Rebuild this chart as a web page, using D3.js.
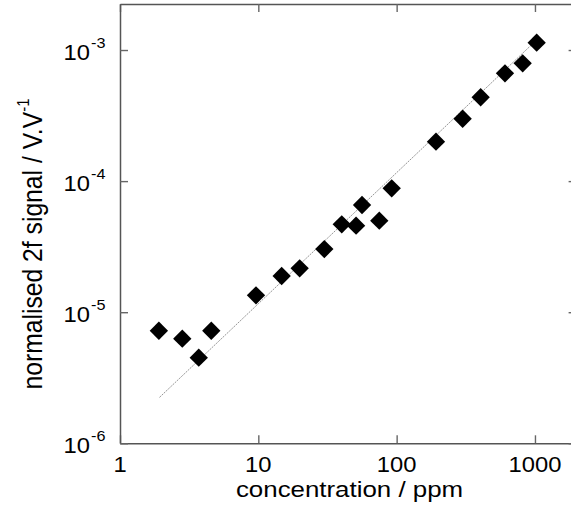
<!DOCTYPE html>
<html>
<head>
<meta charset="utf-8">
<script src="https://cdn.jsdelivr.net/npm/d3@7"></script>
<style>
  html, body { margin: 0; padding: 0; background: #fff; }
  svg { display: block; }
  text { font-family: "Liberation Sans", Arial, sans-serif; fill: #000; }
</style>
</head>
<body>
<svg id="chart" width="571" height="514"></svg>
<script>
// ---- data ----
const concentration = [1.91, 2.82, 3.71, 4.57, 9.62, 14.75, 19.9, 30.0, 40.1, 50.9, 56.2, 74.9, 92.1, 192.5, 300, 405, 607, 815, 1029];
const signal = [7.22e-6, 6.28e-6, 4.50e-6, 7.22e-6, 1.345e-5, 1.89e-5, 2.16e-5, 3.03e-5, 4.68e-5, 4.57e-5, 6.57e-5, 4.99e-5, 8.81e-5, 2.00e-4, 2.99e-4, 4.36e-4, 6.64e-4, 7.91e-4, 1.137e-3];
const fitX = [1.93, 1050];
const fitY = [2.24e-6, 1.218e-3];
const xTicks = [1, 10, 100, 1000];
const xTickLabels = ["1", "10", "100", "1000"];
const yTicks = [1e-6, 1e-5, 1e-4, 1e-3];
const yTickExponents = ["-6", "-5", "-4", "-3"];
const xTitle = "concentration / ppm";
const yTitleMain = "normalised 2f signal / V.V";
const yTitleSup = "-1";

const svg = d3.select("#chart");
const pL = 120, pR = 576.6, pT = 4, pB = 443.3;

const x = d3.scaleLog().domain([1, 2000]).range([pL, pR]);
const y = d3.scaleLog().domain([1e-6, 2.244e-3]).range([pB, pT]);

const frameColor = "#555";
const tickLen = 8;

// fit line
svg.append("path")
  .datum(fitX.map((d, i) => [d, fitY[i]]))
  .attr("fill", "none")
  .attr("stroke", "#8a8a8a")
  .attr("stroke-width", 0.9)
  .attr("stroke-dasharray", "2,1")
  .attr("d", d3.line().x(d => x(d[0])).y(d => y(d[1])));

// axes (ticks inward, all four sides)
const fmtNone = () => "";
svg.append("g").attr("transform", `translate(0,${pB})`)
  .call(d3.axisBottom(x).tickValues(xTicks).tickSizeInner(-tickLen).tickSizeOuter(0).tickFormat(fmtNone));
svg.append("g").attr("transform", `translate(0,${pT})`)
  .call(d3.axisTop(x).tickValues(xTicks).tickSizeInner(-tickLen).tickSizeOuter(0).tickFormat(fmtNone));
svg.append("g").attr("transform", `translate(${pL},0)`)
  .call(d3.axisLeft(y).tickValues(yTicks).tickSizeInner(-tickLen).tickSizeOuter(0).tickFormat(fmtNone));
svg.append("g").attr("transform", `translate(${pR},0)`)
  .call(d3.axisRight(y).tickValues(yTicks).tickSizeInner(-tickLen).tickSizeOuter(0).tickFormat(fmtNone));
svg.selectAll(".domain").attr("stroke", frameColor).attr("stroke-width", 1.5);
svg.selectAll(".tick line").attr("stroke", "#666").attr("stroke-width", 1.4);

// x tick labels
xTicks.forEach((t, i) => {
  svg.append("g")
    .attr("transform", `translate(${x(t)},472) scale(1.08,1)`)
    .append("text")
    .attr("text-anchor", "middle")
    .attr("font-size", 22)
    .text(xTickLabels[i]);
});

// y tick labels: 10^exp
yTicks.forEach((t, i) => {
  const g = svg.append("g")
    .attr("transform", `translate(90,${y(t) + 9.5}) scale(1.08,1)`);
  g.append("text").attr("text-anchor", "end").attr("font-size", 22).text("10");
  g.append("text").attr("x", 1).attr("y", -11.5).attr("font-size", 15).text(yTickExponents[i]);
});

// markers (diamonds)
svg.append("g").selectAll("path")
  .data(concentration.map((c, i) => [c, signal[i]]))
  .join("path")
  .attr("transform", d => `translate(${x(d[0])},${y(d[1])}) rotate(45)`)
  .attr("d", d3.symbol(d3.symbolSquare, 168)())
  .attr("fill", "#000");

// x axis title
svg.append("g")
  .attr("transform", "translate(349.5,497) scale(1.15,1)")
  .append("text")
  .attr("text-anchor", "middle")
  .attr("font-size", 22.5)
  .text(xTitle);

// y axis title
const yt = svg.append("g")
  .attr("transform", "translate(42,244) rotate(-90) scale(1,1.15)")
  .append("text")
  .attr("text-anchor", "middle")
  .attr("font-size", 24.7);
yt.append("tspan").text(yTitleMain);
yt.append("tspan").attr("font-size", 15).attr("dy", -11).text(yTitleSup);
</script>
</body>
</html>
